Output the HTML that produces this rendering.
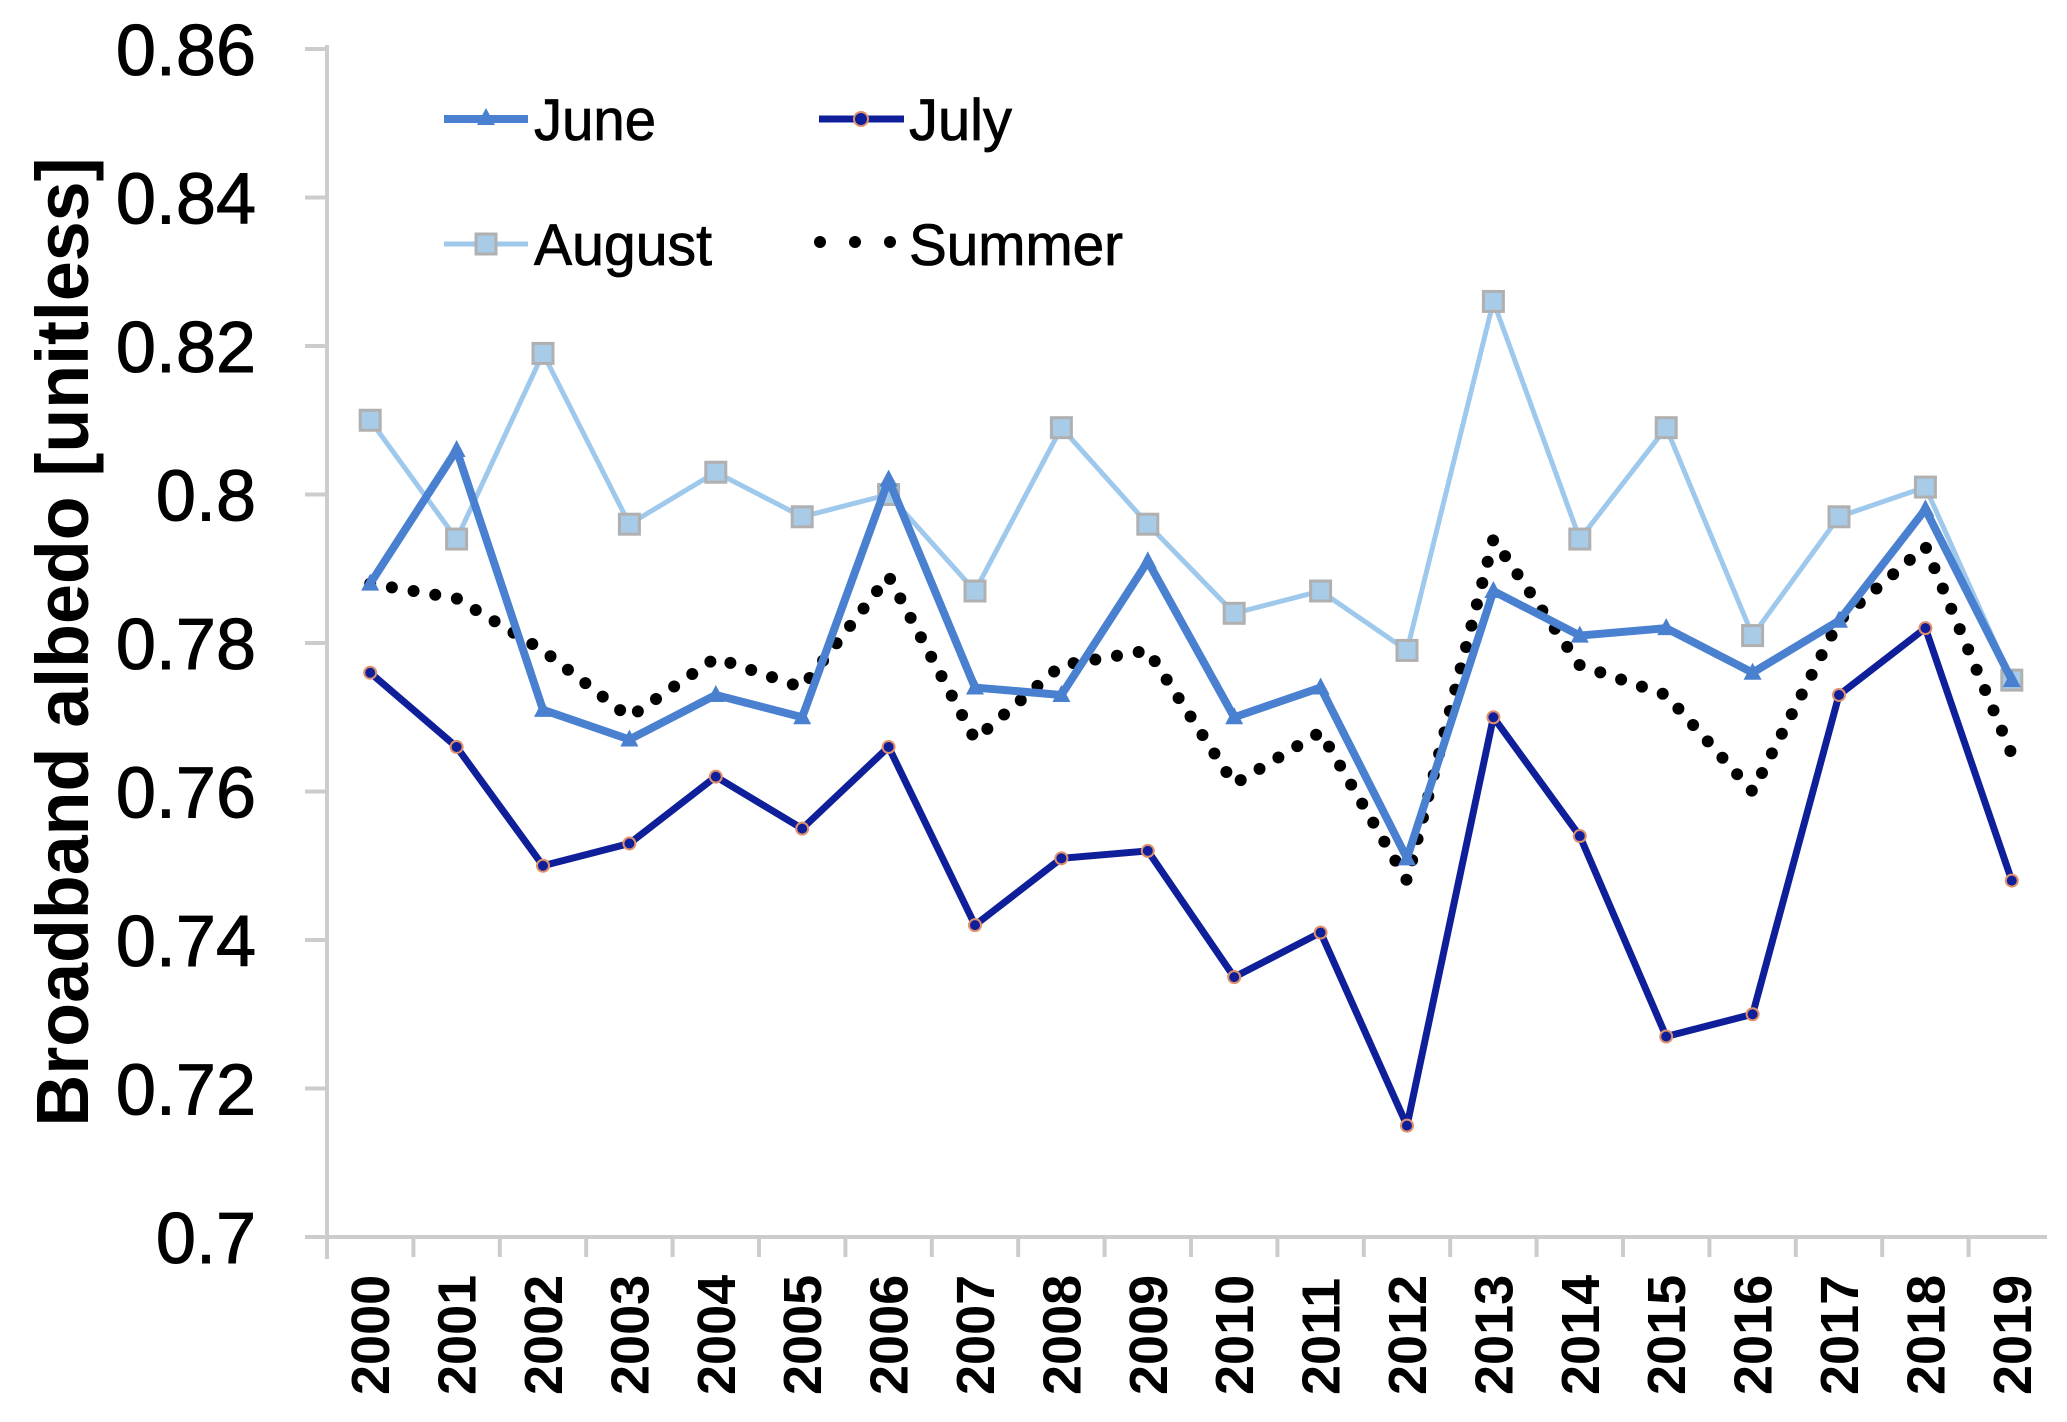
<!DOCTYPE html>
<html><head><meta charset="utf-8"><style>
html,body{margin:0;padding:0;background:#fff}
svg{display:block}
text{font-family:"Liberation Sans",Arial,sans-serif;fill:#000}
</style></head><body>
<svg id="chart" width="2067" height="1422" viewBox="0 0 2067 1422" xmlns="http://www.w3.org/2000/svg">
<g id="axes"></g>
<g id="series"></g>
<g id="legend"></g>
<text transform="translate(88,642) rotate(-90)" text-anchor="middle" font-size="74" font-weight="bold" textLength="969" lengthAdjust="spacingAndGlyphs">Broadband albedo [unitless]</text>
</svg>
<script>
const years = ["2000","2001","2002","2003","2004","2005","2006","2007","2008","2009","2010","2011","2012","2013","2014","2015","2016","2017","2018","2019"];
const june = [0.788,0.806,0.771,0.767,0.773,0.770,0.802,0.774,0.773,0.791,0.770,0.774,0.751,0.787,0.781,0.782,0.776,0.783,0.798,0.775];
const july = [0.776,0.766,0.750,0.753,0.762,0.755,0.766,0.742,0.751,0.752,0.735,0.741,0.715,0.770,0.754,0.727,0.730,0.773,0.782,0.748];
const august = [0.810,0.794,0.819,0.796,0.803,0.797,0.800,0.787,0.809,0.796,0.784,0.787,0.779,0.826,0.794,0.809,0.781,0.797,0.801,0.775];
const summer = [0.788,0.786,0.779,0.770,0.778,0.774,0.789,0.767,0.777,0.779,0.761,0.768,0.748,0.794,0.777,0.773,0.760,0.783,0.793,0.765];
const yTicks = [0.7,0.72,0.74,0.76,0.78,0.8,0.82,0.84,0.86];
const yTickLabels = ["0.7","0.72","0.74","0.76","0.78","0.8","0.82","0.84","0.86"];

const NS="http://www.w3.org/2000/svg";
const X0=327, CW=86.4, Y0=1237, YMIN=0.7, YMAX=0.86, YTOP=49;
function xPos(i){return X0+CW*(i+0.5);}
function yPos(v){return Y0-(v-YMIN)/(YMAX-YMIN)*(Y0-YTOP);}
function mk(tag,attrs,parent){const e=document.createElementNS(NS,tag);for(const k in attrs)e.setAttribute(k,attrs[k]);parent.appendChild(e);return e;}

const axes=document.getElementById('axes');
let el=mk('line',{x1:X0,y1:YTOP-4,x2:X0,y2:Y0+22,stroke:'#cccccc','stroke-width':4},axes);


el=mk('line',{x1:X0-22,y1:Y0,x2:X0+CW*years.length-8,y2:Y0,stroke:'#cccccc','stroke-width':4},axes);


yTicks.forEach((v,i)=>{
  const y=yPos(v);
  let t=mk('line',{x1:X0-22,y1:y,x2:X0,y2:y,stroke:'#cccccc','stroke-width':4},axes);
  
  
  let l=mk('text',{x:256,y:y+26,'text-anchor':'end','font-size':72,stroke:'#000','stroke-width':1},axes);
  l.textContent=yTickLabels[i];
  
  
});
for(let i=0;i<years.length;i++){
  let t=mk('line',{x1:X0+CW*i,y1:Y0,x2:X0+CW*i,y2:Y0+20,stroke:'#cccccc','stroke-width':4},axes);
  
  
}
years.forEach((yr,i)=>{
  let l=mk('text',{transform:`translate(${xPos(i)+19},1395) rotate(-90)`,'text-anchor':'start','font-size':54,'font-weight':'bold'},axes);
  l.textContent=yr;
  
  
});

const ser=document.getElementById('series');
function pts(arr){return arr.map((v,i)=>xPos(i)+','+yPos(v)).join(' ');}
let p=mk('polyline',{points:pts(august),fill:'none',stroke:'#9fc9ec','stroke-width':5,'stroke-linejoin':'round'},ser);


august.forEach((v,i)=>{
  let m=mk('rect',{x:xPos(i)-10,y:yPos(v)-10,width:20,height:20,fill:'#a8cbe8',stroke:'#b0b0b0','stroke-width':3},ser);
  
  
});
p=mk('polyline',{points:pts(summer),fill:'none',stroke:'#000','stroke-width':12,'stroke-linecap':'round','stroke-dasharray':'0 22','stroke-linejoin':'round'},ser);


p=mk('polyline',{points:pts(june),fill:'none',stroke:'#4a80d0','stroke-width':8,'stroke-linejoin':'round'},ser);


june.forEach((v,i)=>{
  const x=xPos(i),y=yPos(v);
  let m=mk('polygon',{points:`${x},${y-10} ${x-9},${y+7} ${x+9},${y+7}`,fill:'#4a80d0'},ser);
  
  
});
p=mk('polyline',{points:pts(july),fill:'none',stroke:'#0f1f9a','stroke-width':7,'stroke-linejoin':'round'},ser);


july.forEach((v,i)=>{
  let m=mk('circle',{cx:xPos(i),cy:yPos(v),r:6,fill:'#0f1f9a',stroke:'#e0906a','stroke-width':2},ser);
  
  
});

const lg=document.getElementById('legend');
function legText(x,y,s,w,name){let t=mk('text',{x:x,y:y,'font-size':58,textLength:w,lengthAdjust:'spacingAndGlyphs',stroke:'#000','stroke-width':0.8},lg);t.textContent=s;}
let g=mk('line',{x1:444,y1:119,x2:528,y2:119,stroke:'#4a80d0','stroke-width':8},lg);


g=mk('polygon',{points:'486,108 477,125 495,125',fill:'#4a80d0'},lg);


legText(534,140,'June',122,'legend-june-label');
g=mk('line',{x1:819,y1:119,x2:904,y2:119,stroke:'#0f1f9a','stroke-width':7},lg);


g=mk('circle',{cx:861,cy:119,r:7,fill:'#0f1f9a',stroke:'#e0906a','stroke-width':2},lg);


legText(909,140,'July',103,'legend-july-label');
g=mk('line',{x1:444,y1:244,x2:528,y2:244,stroke:'#9fc9ec','stroke-width':5},lg);


g=mk('rect',{x:476,y:234,width:20,height:20,fill:'#a8cbe8',stroke:'#b0b0b0','stroke-width':3},lg);


legText(534,265,'August',178,'legend-august-label');
g=mk('line',{x1:820,y1:242,x2:891,y2:242,stroke:'#000','stroke-width':12,'stroke-linecap':'round','stroke-dasharray':'0 35'},lg);


legText(909,265,'Summer',214,'legend-summer-label');
</script>
</body></html>
